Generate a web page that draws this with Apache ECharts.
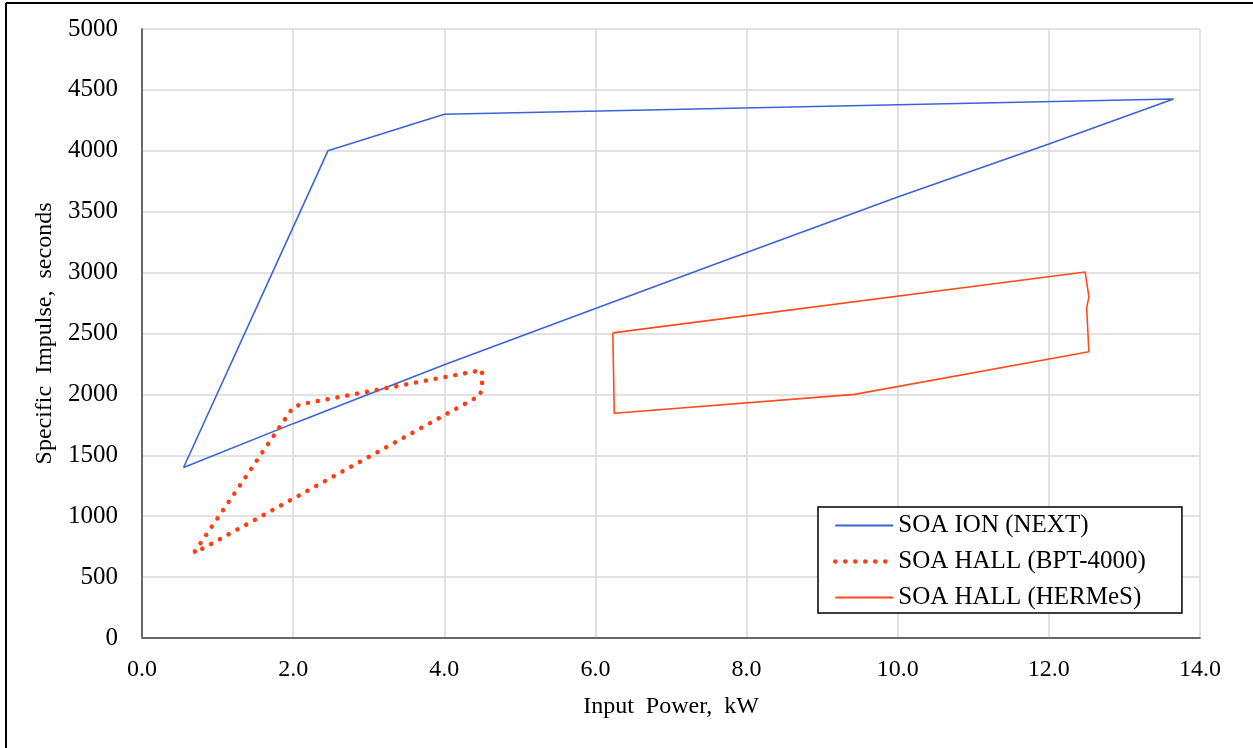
<!DOCTYPE html>
<html>
<head>
<meta charset="utf-8">
<script src="https://cdn.jsdelivr.net/npm/echarts@6/dist/echarts.min.js"></script>
<style>
  html, body { margin: 0; padding: 0; background: #fff; }
  #chart { width: 1253px; height: 748px; }
</style>
</head>
<body>
<div id="chart"></div>
<script>
// SOA ION (NEXT) envelope, input power kW / specific impulse s
const nextPower = [0.55, 2.46, 4.0, 13.65, 12.0, 10.0, 8.0, 6.0, 4.0, 2.0, 0.55]
const nextIsp = [1400, 4000, 4300, 4425, 4056, 3620, 3165, 2706, 2243, 1760, 1400]

// SOA HALL (BPT-4000)
const bptPower = [0.70, 2.00, 2.11, 4.50, 4.50, 4.47, 0.81, 0.70]
const bptIsp = [710, 1895, 1920, 2200, 2055, 1990, 736, 710]

// SOA HALL (HERMeS)
const hermesPower = [6.23, 12.48, 12.53, 12.50, 12.53, 9.43, 6.25, 6.23]
const hermesIsp = [2505, 3005, 2800, 2710, 2350, 2000, 1845, 2505]

const seriesNames = ['SOA ION (NEXT)', 'SOA HALL (BPT-4000)', 'SOA HALL (HERMeS)']
const xTicks = [0, 2, 4, 6, 8, 10, 12, 14]
const yTicks = [0, 500, 1000, 1500, 2000, 2500, 3000, 3500, 4000, 4500, 5000]

const font = 'Liberation Serif, Times New Roman, serif'
const pairs = (xs, ys) => xs.map((x, i) => [x, ys[i]])
const dotted = { color: '#ff3d12', width: 4.5, type: [0.1, 9.9], cap: 'round' }

const chart = echarts.init(document.getElementById('chart'))

chart.setOption({
  animation: false,
  backgroundColor: '#fff',
  textStyle: { fontFamily: font, color: '#000' },
  graphic: [
    // outer frame (left and top edges only are visible in the screenshot)
    { type: 'line', shape: { x1: 6, y1: 3, x2: 6, y2: 748 }, style: { stroke: '#000', lineWidth: 2 } },
    { type: 'line', shape: { x1: 6, y1: 3, x2: 1253, y2: 3 }, style: { stroke: '#000', lineWidth: 2 } },
  ],
  grid: {
    left: 142,
    top: 29,
    right: 53,
    bottom: 110,
  },
  legend: {
    orient: 'vertical',
    left: 818,
    top: 507,
    data: [
      { name: seriesNames[0] },
      { name: seriesNames[1], lineStyle: { width: 4.5, type: [0.1, 9.9], cap: 'round' } },
      { name: seriesNames[2] },
    ],
    backgroundColor: '#fff',
    borderColor: '#000',
    borderWidth: 1.5,
    borderRadius: 0,
    padding: [6, 36, 3, 15],
    itemWidth: 58,
    itemHeight: 14,
    itemGap: 11,
    itemStyle: { opacity: 0 },
    textStyle: { fontFamily: font, fontSize: 25, lineHeight: 24, color: '#000' },
  },
  xAxis: [
    {
      type: 'value',
      min: xTicks[0],
      max: xTicks[xTicks.length - 1],
      interval: 2,
      name: 'Input  Power,  kW',
      nameLocation: 'middle',
      nameGap: 57,
      nameTextStyle: { fontFamily: font, fontSize: 24, color: '#000' },
      axisLine: { show: true, lineStyle: { color: '#d9d9d9', width: 2 } },
      axisTick: { show: false },
      axisLabel: {
        margin: 20,
        fontFamily: font,
        fontSize: 24,
        color: '#000',
        formatter: v => v.toFixed(1),
      },
      splitLine: { show: true, lineStyle: { color: '#d9d9d9', width: 1.5 } },
    },
    {
      // dark top edge of plot area
      type: 'value',
      position: 'top',
      min: xTicks[0],
      max: xTicks[xTicks.length - 1],
      axisLine: { show: true, lineStyle: { color: '#404040', width: 1.5 } },
      axisTick: { show: false },
      axisLabel: { show: false },
      splitLine: { show: false },
    },
  ],
  yAxis: [
    {
      type: 'value',
      min: yTicks[0],
      max: yTicks[yTicks.length - 1],
      interval: 500,
      name: 'Specific  Impulse,  seconds',
      nameLocation: 'middle',
      nameGap: 85,
      nameTextStyle: { fontFamily: font, fontSize: 24, color: '#000' },
      axisLine: { show: true, lineStyle: { color: '#d9d9d9', width: 2 } },
      axisTick: { show: false },
      axisLabel: {
        margin: 24,
        fontFamily: font,
        fontSize: 25,
        color: '#000',
        formatter: v => String(v),
      },
      splitLine: { show: true, lineStyle: { color: '#d9d9d9', width: 1.5 } },
    },
    {
      // dark right edge of plot area
      type: 'value',
      position: 'right',
      min: yTicks[0],
      max: yTicks[yTicks.length - 1],
      axisLine: { show: true, lineStyle: { color: '#404040', width: 1.5 } },
      axisTick: { show: false },
      axisLabel: { show: false },
      splitLine: { show: false },
    },
  ],
  series: [
    {
      name: seriesNames[0],
      type: 'line',
      data: pairs(nextPower, nextIsp),
      symbol: 'none',
      lineStyle: { color: '#3c63d3', width: 1.6 },
      itemStyle: { color: '#3c63d3' },
    },
    {
      name: seriesNames[1],
      type: 'line',
      data: pairs(bptPower, bptIsp),
      symbol: 'none',
      lineStyle: dotted,
      itemStyle: { color: '#ff3d12' },
    },
    {
      name: seriesNames[2],
      type: 'line',
      data: pairs(hermesPower, hermesIsp),
      symbol: 'none',
      lineStyle: { color: '#ff4a1c', width: 1.6 },
      itemStyle: { color: '#ff4a1c' },
    },
  ],
})
</script>
</body>
</html>
